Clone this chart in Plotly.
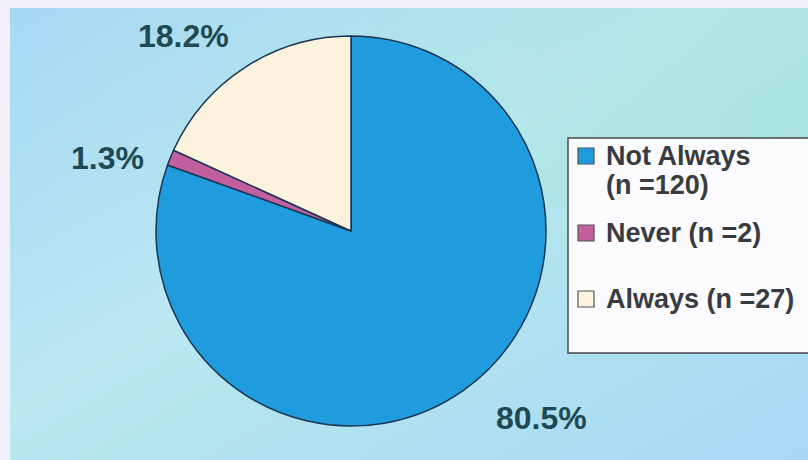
import urllib.parse
import plotly.graph_objects as go

# Survey responses
labels = ["Not Always", "Never", "Always"]
counts = [120, 2, 27]
percents = [80.5, 1.3, 18.2]
legend_lines = [["Not Always", "(n =120)"], ["Never (n =2)"], ["Always (n =27)"]]

colors = ["#1e9cdd", "#c25f9e", "#fbf3de"]
edge_color = "#1b3553"
label_color = "#1f4a52"
legend_text_color = "#383b40"

W, H = 808, 460

def px(x):
    return x / W

def py(y):
    return 1 - y / H

# soft diagonal backdrop
svg = (
    '<svg xmlns="http://www.w3.org/2000/svg" width="800" height="452" preserveAspectRatio="none">'
    '<defs><linearGradient id="g" x1="0" y1="0" x2="1" y2="1">'
    '<stop offset="0" stop-color="#a6d8f5"/>'
    '<stop offset="0.45" stop-color="#bce8f2"/>'
    '<stop offset="0.55" stop-color="#b4e6ee"/>'
    '<stop offset="1" stop-color="#a7d8f6"/>'
    '</linearGradient>'
    '<linearGradient id="h" x1="0" y1="0" x2="1" y2="0">'
    '<stop offset="0" stop-color="#a8e4de" stop-opacity="0"/>'
    '<stop offset="1" stop-color="#a6e4dc" stop-opacity="0.55"/>'
    '</linearGradient></defs>'
    '<rect width="800" height="452" fill="url(#g)"/>'
    '<rect width="800" height="200" fill="url(#h)"/>'
    '</svg>'
)
bg_uri = "data:image/svg+xml;charset=utf-8," + urllib.parse.quote(svg)

cx, cy, r = 351, 231, 195

fig = go.Figure(
    go.Pie(
        labels=labels,
        values=percents,
        customdata=counts,
        sort=False,
        direction="clockwise",
        rotation=0,
        textinfo="none",
        hoverinfo="label+percent",
        marker=dict(colors=colors, line=dict(color=edge_color, width=1.5)),
        domain=dict(x=[px(cx - r), px(cx + r)], y=[py(cy + r), py(cy - r)]),
        showlegend=False,
    )
)

# percentage labels around the pie
label_pos = [(541, 418), (107, 158), (183, 36)]
annotations = []
for p, (x, y) in zip(percents, label_pos):
    annotations.append(dict(
        x=px(x), y=py(y), xref="paper", yref="paper",
        text=f"{p:.1f}%", showarrow=False, xanchor="center", yanchor="middle",
        font=dict(family="Liberation Sans, Arial, sans-serif", size=32, color=label_color, weight="bold"),
    ))

# legend panel
shapes = [dict(
    type="rect", xref="paper", yref="paper",
    x0=px(568), x1=px(830), y0=py(353), y1=py(138),
    fillcolor="#fcfbfd", line=dict(color="#4a4a4a", width=1.5), layer="above",
)]
row_y = [[156, 185], [233], [299]]
for color, lines, ys in zip(colors, legend_lines, row_y):
    y0 = ys[0]
    shapes.append(dict(
        type="rect", xref="paper", yref="paper",
        x0=px(578), x1=px(594), y0=py(y0 + 8), y1=py(y0 - 8),
        fillcolor=color, line=dict(color="#555555", width=1.2), layer="above",
    ))
    for text, y in zip(lines, ys):
        annotations.append(dict(
            x=px(604), y=py(y), xref="paper", yref="paper",
            text=text, showarrow=False, xanchor="left", yanchor="middle",
            font=dict(family="Liberation Sans, Arial, sans-serif", size=27, color=legend_text_color, weight="bold"),
        ))

fig.update_layout(
    width=W, height=H,
    margin=dict(l=0, r=0, t=0, b=0),
    paper_bgcolor="#f3eff9",
    plot_bgcolor="rgba(0,0,0,0)",
    images=[dict(
        source=bg_uri, xref="paper", yref="paper",
        x=px(10), y=py(8), sizex=1 - px(10), sizey=py(8),
        xanchor="left", yanchor="top", sizing="stretch", layer="below",
    )],
    shapes=shapes,
    annotations=annotations,
)

fig.write_html("out.html")
